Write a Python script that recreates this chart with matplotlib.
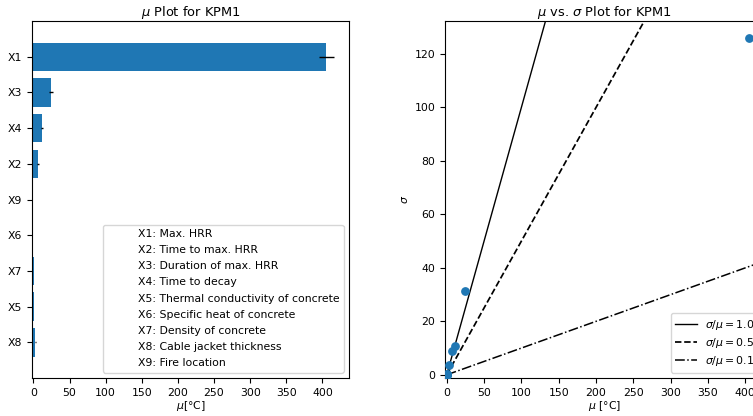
import matplotlib

matplotlib.use("Agg")
import matplotlib.pyplot as plt
from matplotlib.lines import Line2D

# Morris screening results for KPM1
params = ["X1", "X3", "X4", "X2", "X9", "X6", "X7", "X5", "X8"]
mu = [405.5, 24.0, 11.5, 6.5, 0.0, 0.0, 0.8, 0.8, 2.5]
mu_conf = [10.5, 2.5, 1.5, 1.0, 0.0, 0.0, 0.2, 0.2, 0.5]
sigma = [126.0, 31.3, 10.8, 9.0, 0.0, 0.0, 0.3, 0.3, 3.7]
descriptions = [
    "X1: Max. HRR",
    "X2: Time to max. HRR",
    "X3: Duration of max. HRR",
    "X4: Time to decay",
    "X5: Thermal conductivity of concrete",
    "X6: Specific heat of concrete",
    "X7: Density of concrete",
    "X8: Cable jacket thickness",
    "X9: Fire location",
]
ratios = [1.0, 0.5, 0.1]
ratio_styles = ["-", "--", "-."]
ratio_widths = [1.0, 1.25, 1.1]

plt.rcParams["font.size"] = 7.8

fig = plt.figure(figsize=(7.53, 4.16), dpi=100)
ax1 = fig.add_axes([0.0425, 0.0913, 0.421, 0.858])
ax2 = fig.add_axes([0.591, 0.0913, 0.4243, 0.858])

# left: mu bar chart
pos = list(range(len(params)))
ax1.barh(pos, mu, xerr=mu_conf, height=0.8, color="C0", ecolor="black", error_kw={"lw": 1})
ax1.set_yticks(pos)
ax1.set_yticklabels(params)
ax1.set_ylim(9.0, -1.0)
ax1.set_xlim(-2.0, 1.05 * (mu[0] + mu_conf[0]))
ax1.set_xticks([0, 50, 100, 150, 200, 250, 300, 350, 400])
ax1.set_xlabel(r"$\mu$[°C]", labelpad=1)
ax1.set_title(r"$\mu$ Plot for KPM1", fontsize=9.4, pad=4)
blank = [Line2D([], [], linestyle="none") for _ in descriptions]
ax1.legend(blank, descriptions, loc="lower right", fontsize=7.8, handlelength=2.0,
           labelspacing=0.57, borderpad=0.4)

# right: mu vs sigma
ax2.scatter(mu, sigma, s=28, color="C0", zorder=3)
xmax = 1.05 * max(mu)
ymax = 1.05 * max(sigma)
for r, ls, lw in zip(ratios, ratio_styles, ratio_widths):
    ax2.plot([0, xmax * 2], [0, r * xmax * 2], color="black", linestyle=ls, lw=lw,
             label=rf"$\sigma/\mu={r:.1f}$")
ax2.set_xlim(-2.3, xmax)
ax2.set_ylim(-1.2, ymax)
ax2.set_xticks([0, 50, 100, 150, 200, 250, 300, 350, 400])
ax2.set_yticks([0, 20, 40, 60, 80, 100, 120])
ax2.set_xlabel(r"$\mu$ [°C]", labelpad=1)
ax2.set_ylabel(r"$\sigma$", labelpad=3)
ax2.set_title(r"$\mu$ vs. $\sigma$ Plot for KPM1", fontsize=9.4, pad=4)
ax2.legend(loc="lower right", fontsize=7.8, handlelength=2.0, labelspacing=0.4)

fig.savefig("out.png", dpi=100)
